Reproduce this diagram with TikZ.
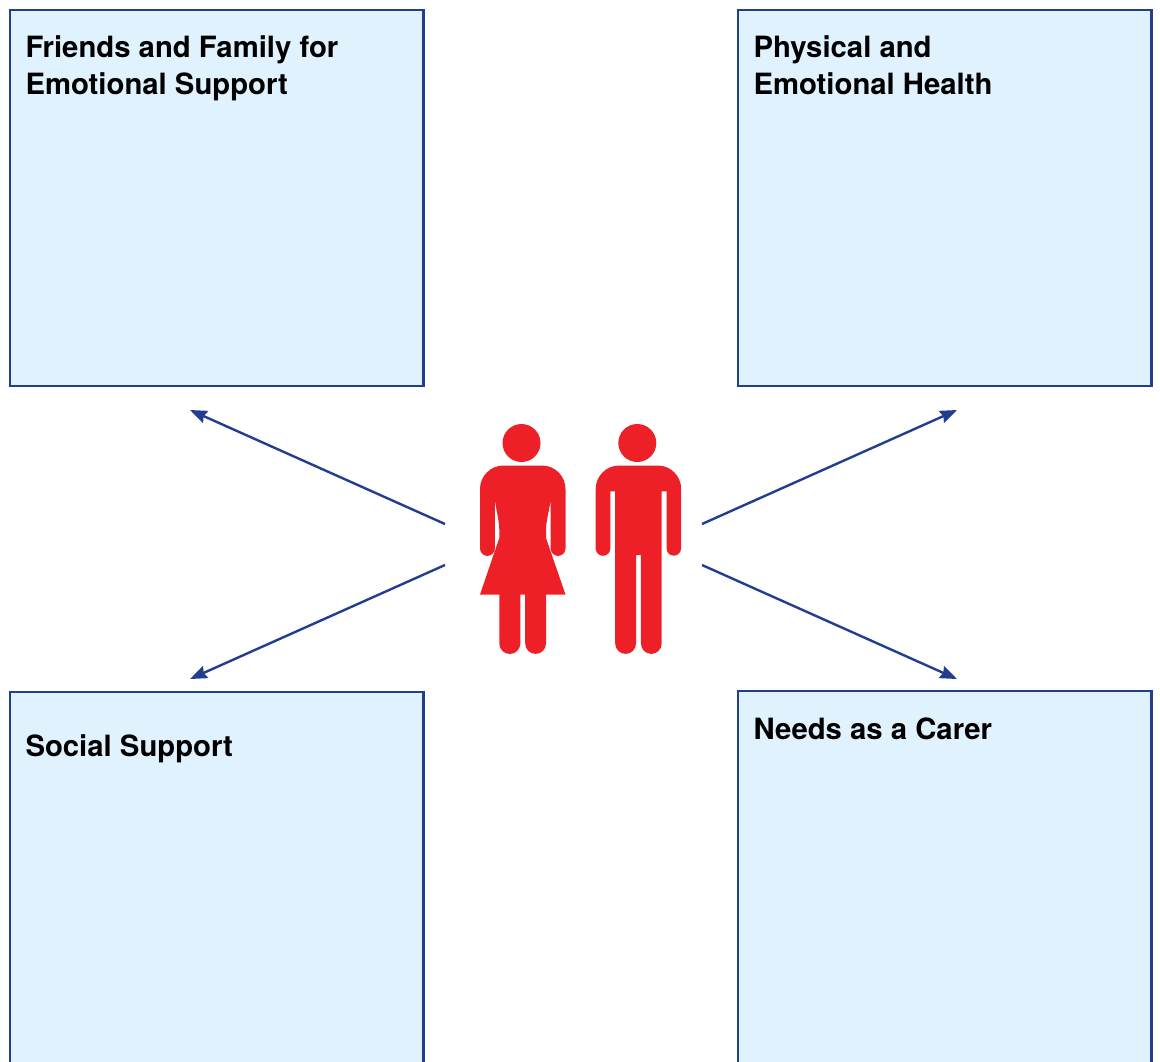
\documentclass[tikz,border=0pt]{standalone}
\usepackage{fontspec}
\setmainfont{TeX Gyre Heros}
\usetikzlibrary{arrows.meta}
\definecolor{boxblue}{HTML}{E0F2FD}
\definecolor{edgeblue}{HTML}{233D8F}
\definecolor{figred}{HTML}{EE2027}
\tikzset{
  carebox/.style={draw=edgeblue,fill=boxblue,line width=2.5pt,rectangle,inner sep=0pt,
    outer sep=0pt,minimum width=413.5pt,anchor=north west},
  boxtitle/.style={anchor=base west,inner sep=0pt,align=left,
    font=\fontsize{29.3}{37}\selectfont\bfseries},
  needarrow/.style={draw=edgeblue,line width=2.4pt,-{Stealth[length=17pt,width=13pt,inset=2pt]}},
  figure/.style={fill=figred,draw=none}
}
\begin{document}
\begin{tikzpicture}[x=1pt,y=-1pt]
\useasboundingbox (0,0) rectangle (1160,1061);
\clip (0,0) rectangle (1160,1061);
\node [carebox,minimum height=376pt] (friends) at ( 10, 10) {};
\node [carebox,minimum height=376pt] (health)  at (738, 10) {};
\node [carebox,minimum height=420pt] (social)  at ( 10,692) {};
\node [carebox,minimum height=420pt] (carer)   at (738,691) {};
\node [boxtitle] (friendstext) at (25.3, 94) {Friends and Family for\\Emotional Support};
\node [boxtitle] (healthtext)  at (753.3, 94) {Physical and\\Emotional Health};
\node [boxtitle] (socialtext)  at (25.3,756) {Social Support};
\node [boxtitle] (carertext)   at (753.3,739) {Needs as a Carer};
% arrows
\coordinate (ul0) at (445,524); \coordinate (ul1) at (190,410);
\coordinate (ll0) at (445,565); \coordinate (ll1) at (190,679);
\coordinate (ur0) at (702,524); \coordinate (ur1) at (957,410);
\coordinate (lr0) at (702,565); \coordinate (lr1) at (957,679);
\draw [needarrow] (ul0) -- (ul1);
\draw [needarrow] (ll0) -- (ll1);
\draw [needarrow] (ur0) -- (ur1);
\draw [needarrow] (lr0) -- (lr1);
% woman
\fill [figure] (521.5,443) circle (19);
\fill [figure]
    (480,548.5) -- (480,489) arc (180:270:23.5) -- (542,465.5) arc (270:360:23.5)
    -- (565.5,548.5) arc (0:180:7.4) -- (550.7,500)
    .. controls (549,511) and (546,522) .. (546,530) -- (546,538)
    -- (565.5,594.5) -- (546,594.5) -- (546,643.5) arc (0:180:10.4) -- (525.2,594.5)
    -- (520.3,594.5) -- (520.3,643.5) arc (0:180:10.5) -- (499.3,594.5) -- (480,594.5)
    -- (499.3,538) -- (499.3,530) .. controls (499.3,522) and (496.5,511) .. (494.8,500)
    -- (494.8,548.5) arc (0:180:7.4) -- cycle;
% man
\fill [figure] (637.3,443) circle (19);
\fill [figure]
    (595.7,548.5) -- (595.7,489) arc (180:270:23.5) -- (657.7,465.5) arc (270:360:23.5)
    -- (681,548.5) arc (0:180:7.2) -- (666.6,491.3) -- (661.7,491.3) -- (661.7,643.5)
    arc (0:180:10.4) -- (640.9,555) -- (636,555) -- (636,643.5) arc (0:180:10.4)
    -- (615.2,491.3) -- (610.3,491.3) -- (610.3,548.5) arc (0:180:7.3) -- cycle;
\end{tikzpicture}
\end{document}
